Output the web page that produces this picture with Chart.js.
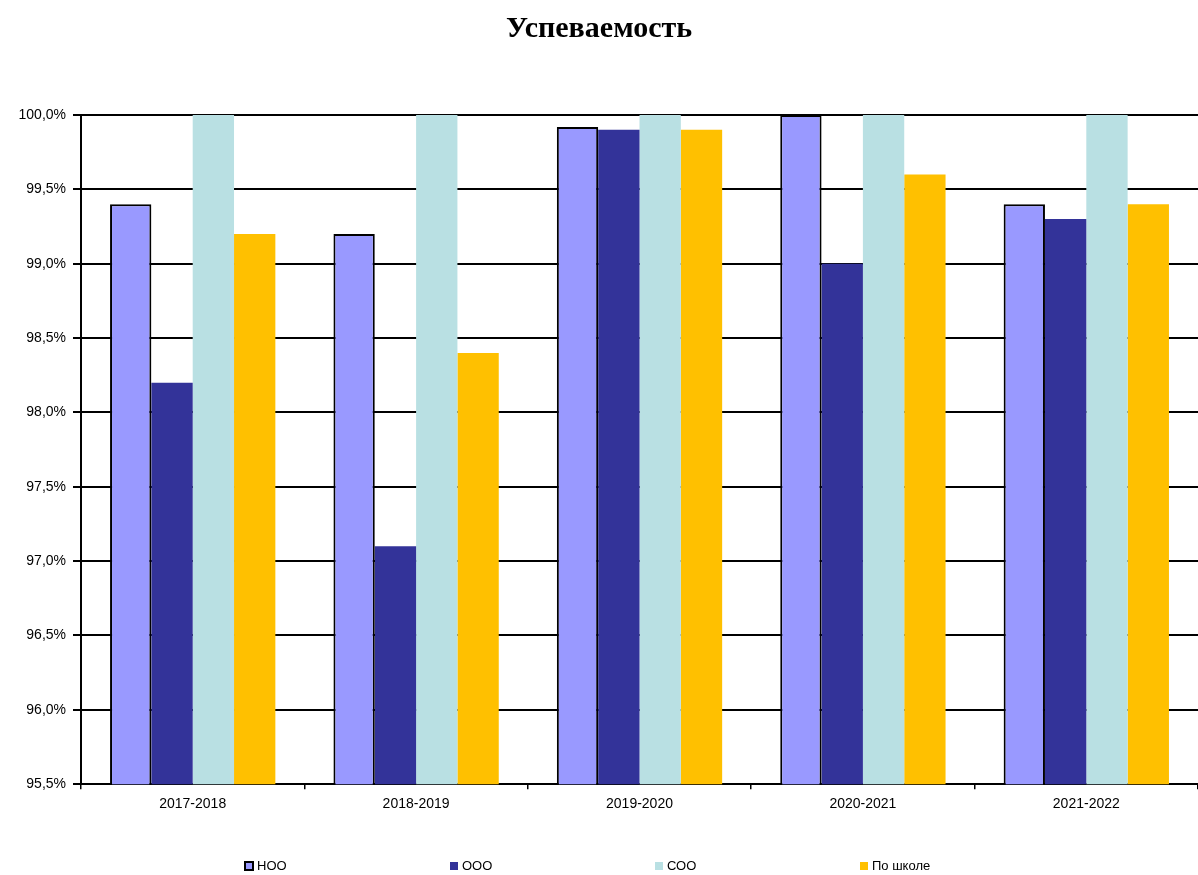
<!DOCTYPE html>
<html>
<head>
<meta charset="utf-8">
<script src="https://cdn.jsdelivr.net/npm/chart.js@4/dist/chart.umd.min.js"></script>
<style>
  html, body { margin: 0; padding: 0; background: #fff; }
  .wrap { width: 1198px; height: 875px; }
</style>
</head>
<body>
<div class="wrap"><canvas class="chart" width="1198" height="875"></canvas></div>
<script>
// Успеваемость по годам

const labels = ["2017-2018", "2018-2019", "2019-2020", "2020-2021", "2021-2022"];

const noo = [99.4, 99.2, 99.92, 100.0, 99.4];
const ooo = [98.2, 97.1, 99.9, 99.0, 99.3];
const soo = [100.0, 100.0, 100.0, 100.0, 100.0];
const school = [99.2, 98.4, 99.9, 99.6, 99.4];

const chart = document.querySelector(".chart").getContext("2d");

// легенда внизу, элементы с равным шагом
const bottomLegend = {
  id: "bottomLegend",
  afterDraw(c) {
    const ctx = c.ctx;
    const step = 205;
    const startX = 245;
    const y = 866;
    ctx.save();
    ctx.font = "13px 'Liberation Sans'";
    ctx.textBaseline = "middle";
    ctx.textAlign = "left";
    c.data.datasets.forEach((ds, i) => {
      const x = startX + i * step;
      ctx.fillStyle = ds.backgroundColor;
      ctx.fillRect(x, y - 4, 8, 8);
      if (ds.borderWidth) {
        ctx.strokeStyle = "#000";
        ctx.lineWidth = 2;
        ctx.strokeRect(x, y - 4, 8, 8);
      }
      ctx.fillStyle = "#000";
      ctx.fillText(ds.label, x + 12, y);
    });
    ctx.restore();
  },
};

const data = {
  labels,
  datasets: [
    {
      label: "НОО",
      backgroundColor: "#9999FF",
      borderColor: "#000000",
      borderWidth: 2,
      borderSkipped: "bottom",
      data: noo,
    },
    {
      label: "ООО",
      backgroundColor: "#333399",
      borderWidth: 0,
      data: ooo,
    },
    {
      label: "СОО",
      backgroundColor: "#B9E0E3",
      borderWidth: 0,
      data: soo,
    },
    {
      label: "По школе",
      backgroundColor: "#FFC000",
      borderWidth: 0,
      data: school,
    },
  ],
};

const config = {
  type: "bar",
  data,
  plugins: [bottomLegend],
  options: {
    responsive: false,
    animation: false,
    categoryPercentage: 0.74,
    barPercentage: 1,
    layout: { padding: { left: 0, right: 0, top: 0, bottom: 55 } },
    plugins: {
      tooltip: { enabled: false },
      legend: { display: false },
      title: {
        display: true,
        text: "Успеваемость",
        color: "#000",
        font: { family: "Liberation Serif", size: 30, weight: "bold" },
        padding: { top: 11, bottom: 68 },
      },
    },
    scales: {
      x: {
        offset: true,
        grid: {
          display: true,
          offset: true,
          drawOnChartArea: false,
          drawTicks: true,
          tickLength: 5,
          color: "#000",
          lineWidth: 1.5,
        },
        border: { display: true, color: "#000", width: 2 },
        ticks: {
          color: "#000",
          padding: 7,
          font: { family: "Liberation Sans", size: 14 },
        },
      },
      y: {
        min: 95.5,
        max: 100,
        afterFit: (scale) => { scale.width = 81; },
        grid: {
          color: "#000",
          lineWidth: 2,
          tickLength: 8,
        },
        border: { display: true, color: "#000", width: 2 },
        ticks: {
          stepSize: 0.5,
          color: "#000",
          padding: 7,
          font: { family: "Liberation Sans", size: 14 },
          callback: (v) => v.toFixed(1).replace(".", ",") + "%",
        },
      },
    },
  },
};

const myChart = new Chart(chart, config);
</script>
</body>
</html>
